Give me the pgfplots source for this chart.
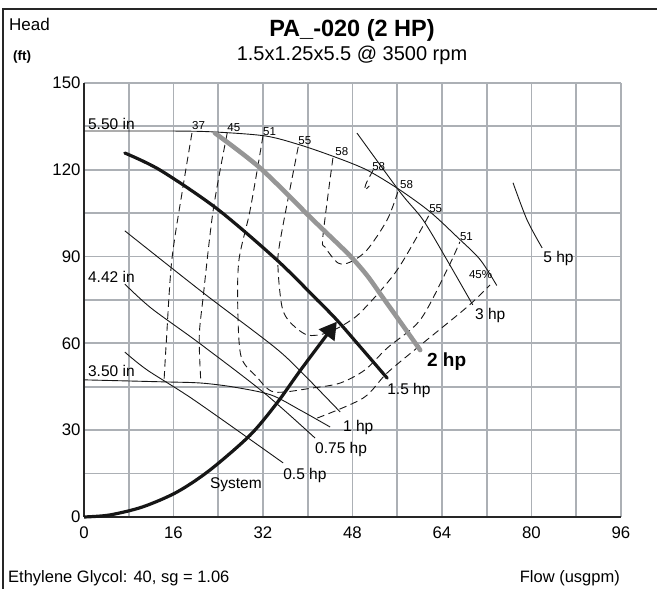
\documentclass[border=0pt]{standalone}
\usepackage{fontspec}
\setmainfont{Liberation Sans}
\usepackage{pgfplots}
\pgfplotsset{compat=1.18}
\usetikzlibrary{arrows.meta}

\definecolor{gridgray}{RGB}{172,176,181}
\definecolor{curvegray}{RGB}{150,150,150}
\definecolor{ink}{RGB}{22,22,22}
\newcommand\fsz[1]{\fontsize{#1}{#1}\selectfont}

\begin{document}
\begin{tikzpicture}
\useasboundingbox (0,0) rectangle (657bp,589bp);
% frame
\draw[line width=1.6bp, black!85] (3bp,0) -- (3bp,580bp) -- (657bp,580bp);
% headings
\node[anchor=base west, inner sep=0] at (9bp,558bp) {\fsz{17bp}Head};
\node[anchor=base west, inner sep=0] at (13bp,528bp) {\fsz{13.5bp}\bfseries (ft)};
\node[anchor=base, inner sep=0] at (352bp,552bp) {\fsz{23.5bp}\bfseries PA\_-020 (2 HP)};
\node[anchor=base, inner sep=0] at (352bp,528bp) {\fsz{20bp}1.5x1.25x5.5 @ 3500 rpm};
\node[anchor=base west, inner sep=0] at (8bp,7bp) {\fsz{16.5bp}Ethylene Glycol: 40, sg = 1.06};
\node[anchor=base east, inner sep=0] at (620bp,7bp) {\fsz{16.5bp}Flow (usgpm)};

\begin{axis}[
  at={(84bp,72bp)}, anchor=south west,
  scale only axis, width=537bp, height=434bp,
  xmin=0, xmax=96, ymin=0, ymax=150,
  xtick={0,16,...,96}, ytick={0,30,...,150},
  minor xtick={8,24,...,88}, minor ytick={15,45,...,135},
  grid=both,
  major grid style={gridgray, line width=1.8bp},
  minor grid style={gridgray, line width=1.8bp},
  axis lines=left,
  axis line style={-},
  x axis line style={line width=2.6bp, black!85},
  y axis line style={line width=1.5bp, black!85},
  major tick length=0pt, minor tick length=0pt,
  /pgf/number format/assume math mode=true,
  ticklabel style={font=\fsz{16.8bp}},
  xticklabel style={yshift=-6bp},
  clip=false,
]
% impeller curves
\addplot[ink, line width=0.9bp, smooth] coordinates {
  (0,133.4) (15.7,133.4) (23.1,133.1) (32.4,131.7) (38.6,128.6)
  (44.9,124.4) (50.6,119.9) (56.5,113.0) (61.9,105.4) (66.7,96.8)
  (70.8,89.0) (73.8,80.0)};
\addplot[ink, line width=0.9bp, smooth] coordinates {
  (0,47.4) (14.3,46.7) (20.9,46.3) (26.8,44.9) (33.4,42.2) (38.6,37.0) (44.0,31.1)};
% power lines
\addplot[ink, line width=0.9bp, smooth] coordinates {
  (7.3,98.9) (21.1,77.8) (34.0,58.8) (39.0,49.8) (45.8,36.3)};
\addplot[ink, line width=0.9bp, smooth] coordinates {
  (7.3,80.5) (12.0,72.2) (20.6,60.1) (32.2,42.9) (41.3,27.3)};
\addplot[ink, line width=0.9bp, smooth] coordinates {
  (7.3,57.0) (11.3,50.8) (19.7,40.4) (35.6,18.7)};
\addplot[ink, line width=0.9bp, smooth] coordinates {
  (48.8,132.7) (56.5,112.3) (60.6,102.7) (64.9,88.8) (69.5,73.3)};
\addplot[ink, line width=0.9bp, smooth] coordinates {
  (76.7,115.5) (79.2,102.7) (81.9,93.0)};
% efficiency curves
\begin{scope}[ink, line width=0.9bp, dash pattern=on 7.5bp off 4.5bp]
\addplot[smooth] coordinates {
  (19.3,132.7) (17.7,114.1) (15.7,88.8) (14.7,60.1) (14.3,46.7)};
\addplot[smooth] coordinates {
  (25.6,132.7) (23.1,106.1) (21.3,76.0) (20.6,62.2) (20.9,46.3)};
\addplot[smooth] coordinates {
  (41.7,34.2) (49.9,41.1) (54.2,49.8) (60.6,60.1) (68.5,72.6) (72.6,80.2)};
\addplot[smooth] coordinates {
  (32.0,131.7) (29.7,106.1) (27.7,88.8) (27.5,71.6) (28.1,55.3)
  (30.9,48.4) (34.0,43.2) (40.9,44.6) (45.8,46.3) (50.2,50.8)
  (54.2,58.4) (60.1,68.1) (64.9,85.4) (67.2,95.1)};
\addplot[smooth] coordinates {
  (38.3,127.9) (35.0,94.7) (34.7,85.4) (35.4,72.6) (36.8,67.4)
  (39.9,62.9) (43.4,63.6) (47.0,67.1) (49.9,71.6) (56.0,85.4) (61.9,105.1)};
\addplot[smooth] coordinates {
  (44.5,124.1) (42.7,96.8) (43.1,93.3) (45.4,87.8) (47.6,88.1)
  (50.6,92.3) (54.2,102.7) (56.1,112.3)};
\addplot[smooth, solid] coordinates {
  (51.7,119.9) (50.4,115.1) (50.2,113.0) (51.0,114.4)};
\end{scope}
% 2 hp limit
\addplot[curvegray, line width=4.6bp, line cap=round, smooth] coordinates {
  (23.4,132.7) (31.5,120.6) (40.4,103.7) (44.0,97.0) (47.6,90.2)
  (50.6,83.5) (53.3,76.2) (56.7,67.0) (60.1,57.7)};
% operating impeller
\addplot[ink, line width=3.2bp, line cap=round, smooth] coordinates {
  (7.3,125.8) (13.6,119.9) (23.8,106.5) (34.5,88.8) (41.7,75.0)
  (45.2,68.1) (49.3,59.0) (54.2,48.0)};
% system curve
\addplot[ink, line width=3.2bp, smooth, -{Triangle[length=17bp,width=19bp]}] coordinates {
  (0,0) (4.6,0.7) (10.5,3.5) (16.6,8.6) (22.5,16.2) (29.7,28.3)
  (34.5,39.4) (38.8,51.0) (45.2,67.5)};
% labels
\begin{scope}[every node/.style={anchor=base west, inner sep=0}]
\node at (axis cs:0.7,133.8) {\fsz{15.5bp}5.50 in};
\node at (axis cs:0.7,80.9) {\fsz{15.5bp}4.42 in};
\node at (axis cs:0.7,48.4) {\fsz{15.5bp}3.50 in};
\node at (axis cs:46.3,29.7) {\fsz{15.5bp}1 hp};
\node at (axis cs:41.3,21.8) {\fsz{15.5bp}0.75 hp};
\node at (axis cs:35.6,12.8) {\fsz{15.5bp}0.5 hp};
\node at (axis cs:22.5,9.9) {\fsz{15.5bp}System};
\node at (axis cs:54.2,42.5) {\fsz{15.5bp}1.5 hp};
\node at (axis cs:61.3,52.0) {\fsz{19bp}\bfseries 2 hp};
\node at (axis cs:69.9,68.4) {\fsz{15.5bp}3 hp};
\node at (axis cs:82.1,87.8) {\fsz{15.5bp}5 hp};
\node at (axis cs:19.3,133.8) {\fsz{11.5bp}37};
\node at (axis cs:25.6,133.1) {\fsz{11.5bp}45};
\node at (axis cs:32.0,131.7) {\fsz{11.5bp}51};
\node at (axis cs:38.3,128.9) {\fsz{11.5bp}55};
\node at (axis cs:44.9,125.1) {\fsz{11.5bp}58};
\node at (axis cs:51.5,119.6) {\fsz{11.5bp}58};
\node at (axis cs:56.5,113.4) {\fsz{11.5bp}58};
\node at (axis cs:61.7,105.1) {\fsz{11.5bp}55};
\node at (axis cs:67.2,95.4) {\fsz{11.5bp}51};
\node at (axis cs:68.8,82.3) {\fsz{11.5bp}45\%};
\end{scope}
\end{axis}
\end{tikzpicture}
\end{document}
